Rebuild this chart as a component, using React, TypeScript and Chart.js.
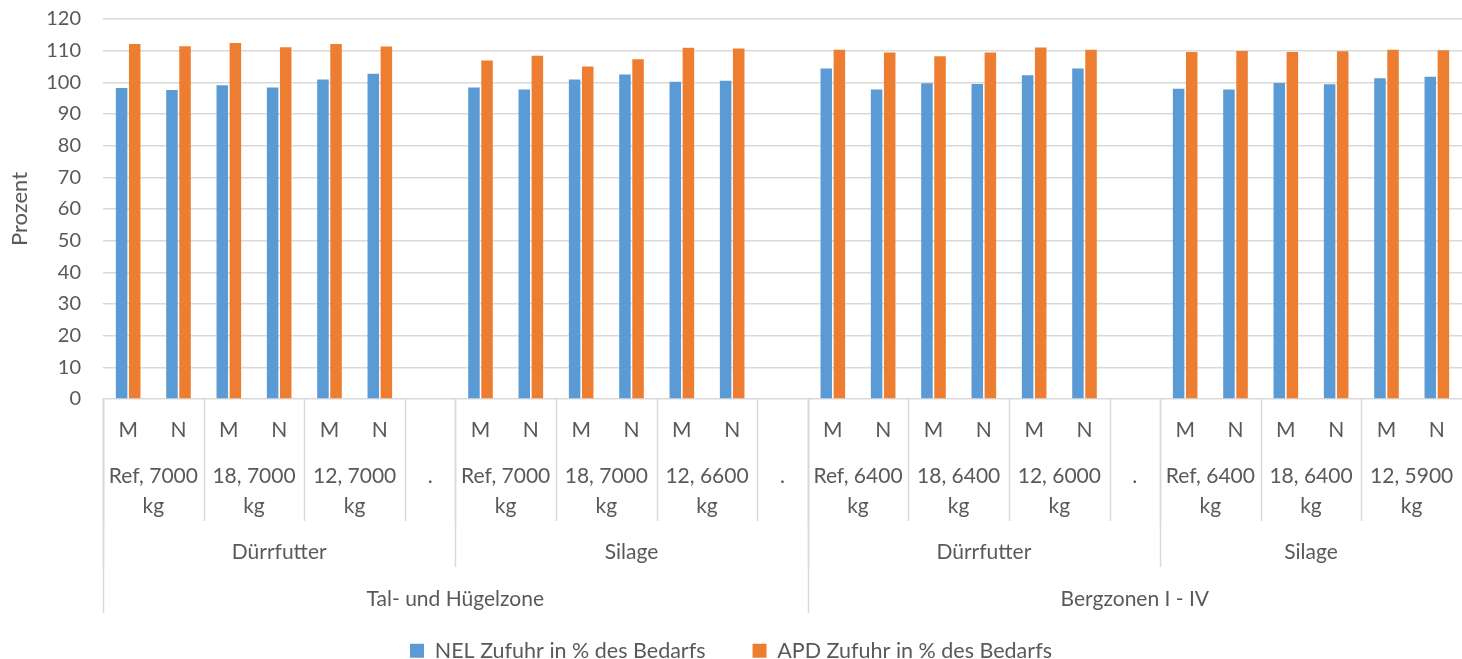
import React, { useEffect, useRef } from "react";
import { Chart, registerables } from "chart.js";

Chart.register(...registerables);

// ---- data ----
const categoryLabels = [
  "M", "N", "M", "N", "M", "N", "",
  "M", "N", "M", "N", "M", "N", "",
  "M", "N", "M", "N", "M", "N", "",
  "M", "N", "M", "N", "M", "N",
];

const tierOneLabels = [
  "Ref, 7000 kg", "18, 7000 kg", "12, 7000 kg", ".",
  "Ref, 7000 kg", "18, 7000 kg", "12, 6600 kg", ".",
  "Ref, 6400 kg", "18, 6400 kg", "12, 6000 kg", ".",
  "Ref, 6400 kg", "18, 6400 kg", "12, 5900 kg",
];
const tierOneSpans = [2, 2, 2, 1, 2, 2, 2, 1, 2, 2, 2, 1, 2, 2, 2];

const tierTwoLabels = ["Dürrfutter", "Silage", "Dürrfutter", "Silage"];
const tierTwoSpans = [7, 7, 7, 6];

const tierThreeLabels = ["Tal- und Hügelzone", "Bergzonen I - IV"];
const tierThreeSpans = [14, 13];

const nelValues = [
  98.2, 97.6, 99.1, 98.4, 100.9, 102.7, null,
  98.4, 97.7, 100.9, 102.5, 100.2, 100.5, null,
  104.4, 97.7, 99.7, 99.5, 102.2, 104.4, null,
  98.0, 97.7, 99.8, 99.4, 101.3, 101.8,
];
const apdValues = [
  112.1, 111.4, 112.4, 111.1, 112.1, 111.3, null,
  106.9, 108.4, 105.0, 107.3, 110.9, 110.7, null,
  110.3, 109.4, 108.2, 109.4, 111.0, 110.3, null,
  109.6, 109.9, 109.6, 109.8, 110.3, 110.1,
];

const seriesNames = ["NEL Zufuhr in % des Bedarfs", "APD Zufuhr in % des Bedarfs"];
const yTitle = "Prozent";

// ---- style ----
const FONT = "Lato";
const LABEL_SIZE = 21;
const TICK_SIZE = 20;
const TEXT = "#595959";
const GRID = "#d9d9d9";
const BLUE = "#5B9BD5";
const ORANGE = "#ED7D31";

function wrapText(ctx: CanvasRenderingContext2D, text: string, maxW: number): string[] {
  const words = text.split(" ");
  const lines: string[] = [];
  let cur = "";
  for (const w of words) {
    const test = cur ? cur + " " + w : w;
    if (ctx.measureText(test).width > maxW && cur) {
      lines.push(cur);
      cur = w;
    } else {
      cur = test;
    }
  }
  if (cur) lines.push(cur);
  return lines;
}

const multiLevelAxis = {
  id: "multiLevelAxis",
  afterDraw(chart: any) {
    const { ctx, chartArea, scales } = chart;
    const x = scales.x;
    const w = x.getPixelForValue(1) - x.getPixelForValue(0);
    const base = chartArea.bottom;
    ctx.save();
    ctx.font = `${LABEL_SIZE}px ${FONT}`;
    ctx.fillStyle = TEXT;
    ctx.textAlign = "center";
    ctx.textBaseline = "middle";

    categoryLabels.forEach((l, i) => {
      if (l) ctx.fillText(l, x.getPixelForValue(i), base + 31);
    });

    ctx.strokeStyle = GRID;
    ctx.lineWidth = 1.5;

    const drawTier = (
      labels: string[],
      spans: number[],
      textY: number,
      lineEnd: number,
      wrap: boolean
    ) => {
      let start = 0;
      labels.forEach((lab, k) => {
        const s = spans[k];
        const c0 = x.getPixelForValue(start);
        const c1 = x.getPixelForValue(start + s - 1);
        const cx = (c0 + c1) / 2;
        const bx = Math.round(c0 - w / 2) + 0.5;
        const lines = wrap ? wrapText(ctx, lab, s * w - 4) : [lab];
        lines.forEach((ln, li) => ctx.fillText(ln, cx, base + textY + li * 30));
        ctx.beginPath();
        ctx.moveTo(bx, base);
        ctx.lineTo(bx, base + lineEnd);
        ctx.stroke();
        start += s;
      });
    };

    drawTier(tierOneLabels, tierOneSpans, 77, 122, true);
    drawTier(tierTwoLabels, tierTwoSpans, 153, 168, false);
    drawTier(tierThreeLabels, tierThreeSpans, 200, 214, false);
    ctx.restore();
  },
};

export default function App() {
  const canvasRef = useRef<HTMLCanvasElement | null>(null);

  useEffect(() => {
    document.body.style.margin = "0";
    const canvas = canvasRef.current;
    if (!canvas) return;
    const chart = new Chart(canvas, {
      type: "bar",
      data: {
        labels: categoryLabels,
        datasets: [
          {
            label: seriesNames[0],
            data: nelValues,
            backgroundColor: BLUE,
            categoryPercentage: 0.52,
            barPercentage: 0.88,
          },
          {
            label: seriesNames[1],
            data: apdValues,
            backgroundColor: ORANGE,
            categoryPercentage: 0.52,
            barPercentage: 0.88,
          },
        ],
      },
      options: {
        animation: false,
        responsive: true,
        maintainAspectRatio: false,
        layout: { padding: { top: 19, left: 0, right: 0, bottom: 0 } },
        plugins: {
          tooltip: { enabled: false },
          legend: {
            position: "bottom",
            maxHeight: 66,
            labels: {
              font: { family: FONT, size: 21.5 },
              color: TEXT,
              boxWidth: 14,
              boxHeight: 14,
              padding: 47,
            },
          },
        },
        scales: {
          x: {
            grid: { display: false },
            border: { display: false },
            ticks: { display: false },
            afterFit: (s: any) => {
              s.height = 194;
            },
          },
          y: {
            min: 0,
            max: 120,
            ticks: {
              stepSize: 10,
              color: TEXT,
              font: { family: FONT, size: TICK_SIZE },
              padding: 3,
            },
            grid: {
              color: GRID,
              lineWidth: 1.5,
              drawTicks: true,
              tickLength: 19,
              tickColor: "rgba(0,0,0,0)",
            },
            border: { display: false },
            title: {
              display: true,
              text: yTitle,
              color: TEXT,
              font: { family: FONT, size: 22 },
              padding: { top: 7, bottom: 0 },
            },
            afterFit: (s: any) => {
              s.width = 103;
            },
          },
        },
      },
      plugins: [multiLevelAxis],
    });
    return () => chart.destroy();
  }, []);

  return (
    <div style={{ position: "relative", width: 1462, height: 659 }}>
      <canvas ref={canvasRef} />
    </div>
  );
}
